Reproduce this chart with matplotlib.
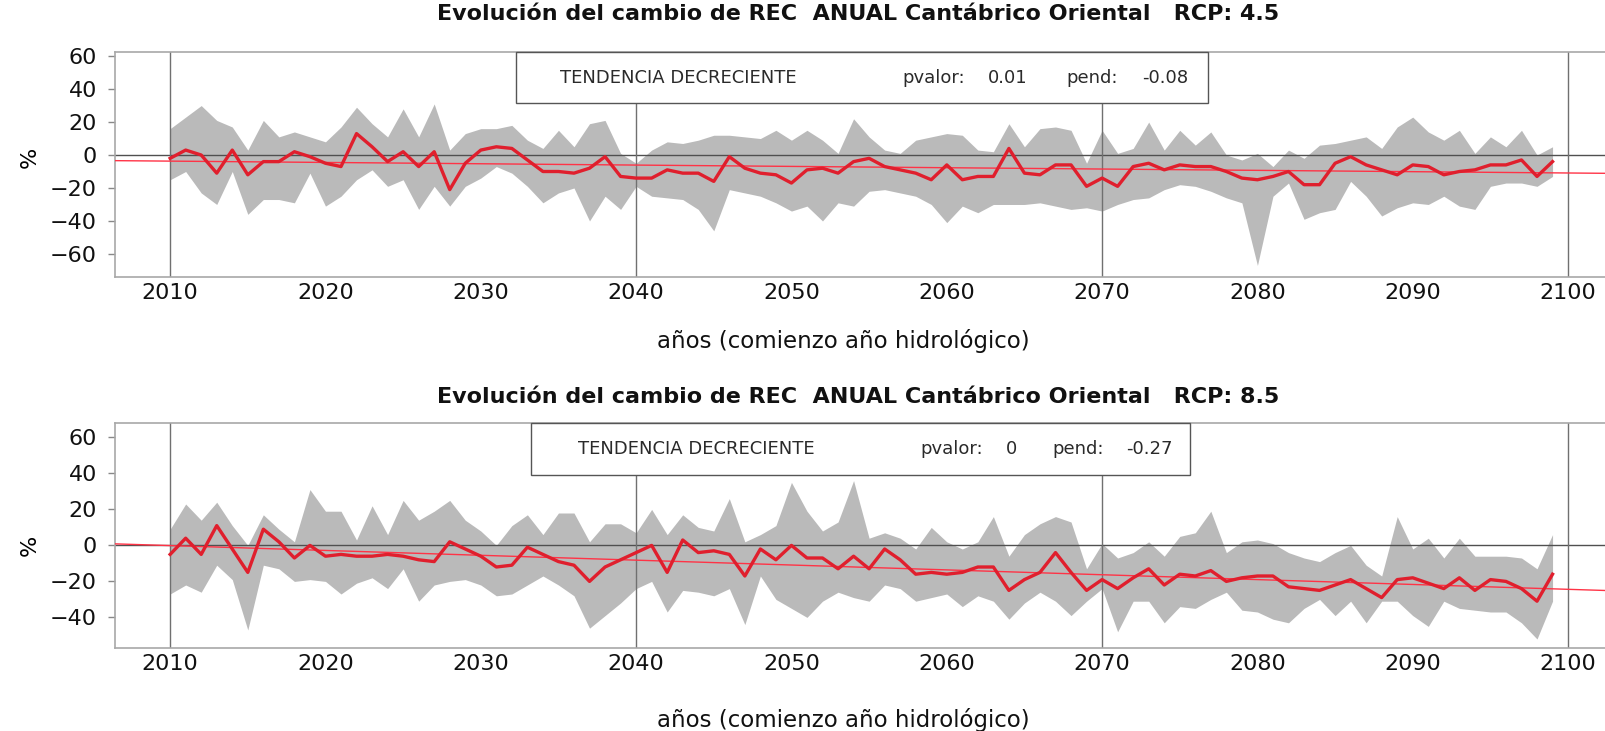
import matplotlib
matplotlib.use('Agg')
import matplotlib.pyplot as plt
from matplotlib.patches import Rectangle

plt.rcParams['font.family'] = ['DejaVu Sans']

years = list(range(2010, 2100))

# ---- RCP 4.5 ----
rcp45_mean = [-2, 3, 0, -11, 3, -12, -4, -4, 2, -1,
              -5, -7, 13, 5, -4, 2, -7, 2, -21, -5,
              3, 5, 4, -3, -10, -10, -11, -8, -1, -13,
              -14, -14, -9, -11, -11, -16, -1, -8, -11, -12,
              -17, -9, -8, -11, -4, -2, -7, -9, -11, -15,
              -6, -15, -13, -13, 4, -11, -12, -6, -6, -19,
              -14, -19, -7, -5, -9, -6, -7, -7, -10, -14,
              -15, -13, -10, -18, -18, -5, -1, -6, -9, -12,
              -6, -7, -12, -10, -9, -6, -6, -3, -13, -4]
rcp45_upper = [16, 23, 30, 21, 17, 3, 21, 11, 14, 11,
               8, 17, 29, 19, 11, 28, 11, 31, 3, 13,
               16, 16, 18, 9, 4, 15, 5, 19, 21, 1,
               -5, 3, 8, 7, 9, 12, 12, 11, 10, 15,
               9, 15, 9, 1, 22, 11, 3, 1, 9, 11,
               13, 12, 3, 2, 19, 5, 16, 17, 15, -5,
               15, 1, 4, 20, 3, 15, 6, 14, 0, -3,
               1, -7, 3, -2, 6, 7, 9, 11, 4, 17,
               23, 14, 9, 15, 1, 11, 5, 15, 0, 5]
rcp45_lower = [-15, -10, -23, -30, -10, -36, -27, -27, -29, -11,
               -31, -25, -15, -9, -19, -15, -33, -19, -31, -19,
               -14, -7, -11, -19, -29, -23, -20, -40, -25, -33,
               -19, -25, -26, -27, -33, -46, -21, -23, -25, -29,
               -34, -31, -40, -29, -31, -22, -21, -23, -25, -30,
               -41, -31, -35, -30, -30, -30, -29, -31, -33, -32,
               -34, -30, -27, -26, -21, -18, -19, -22, -26, -29,
               -67, -25, -17, -39, -35, -33, -16, -25, -37, -32,
               -29, -30, -25, -31, -33, -19, -17, -17, -19, -13]
rcp45_trend_2010 = -3.7
rcp45_pvalor = "0.01"
rcp45_pend = -0.08

# ---- RCP 8.5 ----
rcp85_mean = [-5, 4, -5, 11, -2, -15, 9, 2, -7, 0,
              -6, -5, -6, -6, -5, -6, -8, -9, 2, -2,
              -6, -12, -11, -1, -5, -9, -11, -20, -12, -8,
              -4, 0, -15, 3, -4, -3, -5, -17, -2, -8,
              0, -7, -7, -13, -6, -13, -2, -8, -16, -15,
              -16, -15, -12, -12, -25, -19, -15, -4, -15, -25,
              -19, -24, -18, -13, -22, -16, -17, -14, -20, -18,
              -17, -17, -23, -24, -25, -22, -19, -24, -29, -19,
              -18, -21, -24, -18, -25, -19, -20, -24, -31, -16]
rcp85_upper = [9, 23, 14, 24, 11, 0, 17, 9, 2, 31,
               19, 19, 3, 22, 6, 25, 14, 19, 25, 14,
               8, 0, 11, 17, 6, 18, 18, 2, 12, 12,
               7, 20, 6, 17, 10, 8, 26, 2, 6, 11,
               35, 19, 8, 13, 36, 4, 7, 4, -2, 10,
               2, -2, 2, 16, -6, 6, 12, 16, 13, -13,
               1, -7, -4, 2, -6, 5, 7, 19, -4, 2,
               3, 1, -4, -7, -9, -4, 0, -11, -17, 16,
               -2, 4, -7, 4, -6, -6, -6, -7, -13, 6]
rcp85_lower = [-27, -22, -26, -11, -19, -47, -11, -13, -20, -19,
               -20, -27, -21, -18, -24, -13, -31, -22, -20, -19,
               -22, -28, -27, -22, -17, -22, -28, -46, -39, -32,
               -24, -20, -37, -25, -26, -28, -24, -44, -17, -30,
               -35, -40, -31, -26, -29, -31, -22, -24, -31, -29,
               -27, -34, -28, -31, -41, -32, -26, -31, -39, -31,
               -24, -48, -31, -31, -43, -34, -35, -30, -26, -36,
               -37, -41, -43, -35, -30, -39, -31, -43, -31, -31,
               -39, -45, -31, -35, -36, -37, -37, -43, -52, -31]
rcp85_trend_2010 = -0.1
rcp85_pvalor = "0"
rcp85_pend = -0.27

xticks = list(range(2010, 2101, 10))
vlines = [2010, 2040, 2070, 2100]
yticks45 = [-60, -40, -20, 0, 20, 40, 60]
yticks85 = [-40, -20, 0, 20, 40, 60]

W, H = 1605, 731
fig = plt.figure(figsize=(W / 100, H / 100), dpi=100)


def fx(px):
    return px / W


def fy(py):
    return 1 - py / H


def panel(top_px, bot_px, mean, lo, hi, ylim, yticks, t2010, pend, pvalor,
          rcp, box, pieces, title_y, xlabel_y, zero_px):
    left_px, right_px = 115, 1624
    ax = fig.add_axes([fx(left_px), fy(bot_px), (right_px - left_px) / W,
                       (bot_px - top_px) / H])
    ax.fill_between(years, lo, hi, color='#bababa', lw=0, zorder=1)
    ax.axhline(0, color='#505050', lw=1.0, zorder=2)
    for v in vlines:
        ax.axvline(v, color='#707070', lw=1.0, zorder=2)
    ax.axline((2010, t2010), slope=pend, color='#ff3346', lw=1.0, zorder=3)
    ax.plot(years, mean, color='#e01f2d', lw=2.4, zorder=4)
    ax.set_xlim(2006.45, 2103.6)
    ax.set_ylim(*ylim)
    ax.set_xticks(xticks)
    ax.set_yticks(yticks)
    ax.tick_params(axis='x', length=0, pad=4, labelsize=16, colors='#111111')
    ax.tick_params(axis='y', length=5, width=1, pad=8, labelsize=16,
                   color='#888888', labelcolor='#111111')
    for s in ax.spines.values():
        s.set_color('#a8a8a8')
        s.set_linewidth(1.2)
    # legend box
    bx0, bx1, by0 = box
    ax.add_patch(Rectangle((bx0, by0), bx1 - bx0, 1.0 - by0,
                           transform=ax.transAxes, facecolor='white',
                           edgecolor='#555555', lw=1.0, zorder=6,
                           clip_on=False))
    labels = ["TENDENCIA DECRECIENTE", "pvalor:", pvalor, "pend:",
              f"{pend:g}"]
    ty = by0 + (1.0 - by0) * 0.5
    for (px, lab) in zip(pieces, labels):
        ax.text((px - left_px) / (right_px - left_px), ty, lab,
                transform=ax.transAxes, ha='left', va='center',
                fontsize=13, color='#2a2a2a', zorder=7)
    ax.set_ylabel('%', fontsize=16)
    ax.yaxis.set_label_coords(-0.05, (bot_px - zero_px) / (bot_px - top_px))
    fig.text(fx(858), fy(title_y),
             f"Evolución del cambio de REC  ANUAL Cantábrico Oriental   RCP: {rcp}",
             ha='center', va='center', fontsize=16, fontweight='bold',
             color='#111111')
    fig.text(fx(843), fy(xlabel_y), "años (comienzo año hidrológico)",
             ha='center', va='center', fontsize=16.5, color='#111111')
    return ax


ax1 = panel(52, 277, rcp45_mean, rcp45_lower, rcp45_upper, (-74, 62.5),
            yticks45, rcp45_trend_2010, rcp45_pend, rcp45_pvalor, "4.5",
            (0.2657, 0.7243, 0.773), [560, 902, 988, 1066, 1142], 14, 341,
            157)

ax2 = panel(423, 648, rcp85_mean, rcp85_lower, rcp85_upper, (-57, 68),
            yticks85, rcp85_trend_2010, rcp85_pend, rcp85_pvalor, "8.5",
            (0.2757, 0.7124, 0.769), [578, 920, 1006, 1052, 1126], 397, 720,
            545)

fig.savefig('out.png', dpi=100)
